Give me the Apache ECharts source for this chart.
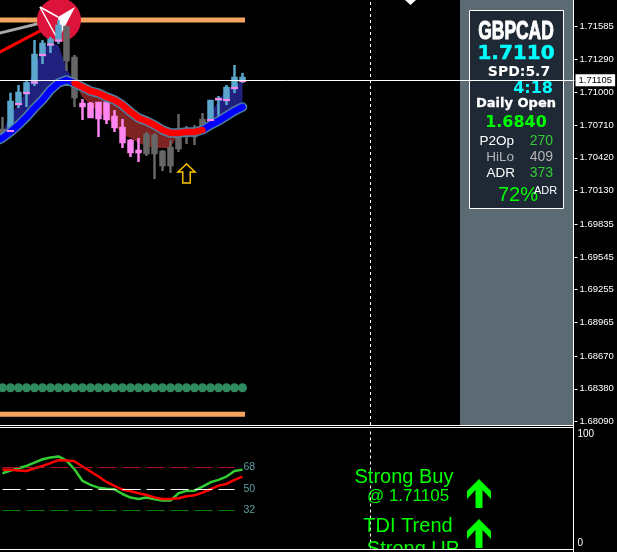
<!DOCTYPE html>
<html><head><meta charset="utf-8">
<style>html,body{margin:0;padding:0;background:#000;overflow:hidden}#c{width:617px;height:552px}</style>
<script src="https://cdn.jsdelivr.net/npm/echarts@6/dist/echarts.min.js"></script>
</head><body><div id="c"></div>
<script>
// one value per candle, oldest first (price in 1e-5 points)
const highs=[170780,170995,171063,171107,171461,171461,171487,171637,171575,171328,170939,170913,170913,170913,170842,170763,170586,170595,170648,170639,170489,170577,170807,170701,170710,170816,170931,170966,171063,171240,171169];
const bodyTop=[170666,170913,170992,171076,171328,171425,171461,171584,171575,171302,170895,170895,170904,170904,170780,170683,170568,170480,170621,170613,170471,170507,170604,170639,170639,170754,170922,170939,171037,171125,171125];
const bodyBot=[170621,170657,170895,170992,171085,171328,171421,171456,171284,170957,170878,170780,170772,170763,170692,170560,170471,170471,170462,170462,170356,170356,170507,170613,170613,170692,170754,170935,170931,171037,171098];
const lows=[170577,170621,170860,170869,171054,171249,171346,171425,171187,170869,170754,170772,170604,170719,170648,170507,170427,170383,170436,170233,170303,170286,170471,170542,170533,170648,170736,170780,170886,170992,171081];
const kinds=['g','b','b','b','b','b','b','b','g','g','p','p','p','p','p','p','p','p','g','g','g','g','g','g','g','g','b','b','b','b','b'];
// moving average: starts one candle before the first visible candle
const maLine=[170560,170595,170648,170710,170780,170860,170931,171019,171081,171107,171081,171045,171010,170992,170957,170931,170886,170825,170772,170745,170710,170666,170639,170639,170648,170648,170666,170710,170745,170789,170833,170869];
const upperA=[170639,170816,170886,171019,171222,171372,171434,171416,171213,171081];
const lowerB=[171081,170957,170886,170825,170772,170710,170621,170595,170551,170524,170507,170507,170507,170639];
const upperC=[170666,170798,170931,171019,171063,171089];
const tdiRed=[65.8,65.8,65.2,64.9,67.2,69.1,71.4,73.9,73.6,73.0,68.6,64.4,60.2,55.7,52.4,49.3,47.9,46.2,44.8,42.8,41.5,41.5,42,43.7,44.5,46.8,49.6,52.6,54,57.4,60.2];
const tdiGreen=[63,65.2,67.2,69.1,71.9,74.7,76.1,77,73.6,66.3,56.5,53.2,50.9,50,49.5,45.6,42.6,41.5,42.6,41.2,40.1,40.1,46.2,48.2,48.4,51.8,55.4,57.4,60.2,64.9,66];
const tdiLevels=[68,50,32];
const priceTicks=[1.71585,1.71290,1.71000,1.70710,1.70420,1.70130,1.69835,1.69545,1.69255,1.68965,1.68670,1.68380,1.68090];
const lastPrice=1.71105;
const upperLevel=1.71637, lowerLevel=1.68154, dotLevel=1.68389, arrowPrice=1.70282, diamondPrice=1.71814;
const grayTrend=[1.71511,1.71614], redTrend=[1.71329,1.71552];
const tdiTickLabels=['100','0'], tdiTickPos=[95.5,4.5];
const symbolName='GBPCAD',bid='1.7110',spread='SPD:5.7',timer='4:18',dailyLabel='Daily Open',dailyOpen='1.6840';
const stats=[['P2Op','270'],['HiLo','409'],['ADR','373']];
const adrPct='72%',adrLabel='ADR';
const signalTexts=['Strong Buy','@ 1.71105','TDI Trend','Strong UP'];

const N=73, cats=Array.from({length:N},(_,i)=>String(i));
const p=a=>a/100000;
const pad=(arr,start)=>cats.map((_,k)=>(k>=start&&k<start+arr.length)?arr[k-start]:'-');
const colors={g:'#666666',b:'#5ba6cc',p:'#ff85f2'};
const candleData=pad(kinds.map((kd,i)=>{
  const o=kd==='b'?bodyBot[i]:bodyTop[i], c=kd==='b'?bodyTop[i]:bodyBot[i], col=colors[kd];
  return {value:[p(o),p(c),p(lows[i]),p(highs[i])],itemStyle:{color:col,color0:col,borderColor:col,borderColor0:col}};
}),1);
const tickData=pad(kinds.map((kd,i)=>kd==='b'?p(i===27?bodyTop[i]:bodyBot[i]):'-'),1);
const ma=maLine.map(p);
const maFull=pad(ma,0);
const blue=maFull.map((v,k)=>(k<=10||k>=26)?v:'-');
const red=maFull.map((v,k)=>(k>=10&&k<=26)?v:'-');
const PRICE='#F4A460';
const band=(stack,base,diff,color)=>[
 {type:'line',stack,data:base,symbol:'none',lineStyle:{width:0},z:1,silent:true},
 {type:'line',stack,data:diff,symbol:'none',lineStyle:{width:0},areaStyle:{color,opacity:1},z:1,silent:true}];
const diffs=(hi,lo,start)=>pad(hi.map((v,i)=>p(v)-p(lo[i])),start);
const maSlice=(from,len)=>maLine.slice(from,from+len);

const T=(text,x,y,font,fill,align,scaleX,heavy)=>({type:'text',z:6,x,y,scaleX:scaleX||1,style:{text,x:0,y:0,font,fill,textAlign:align||'left',textVerticalAlign:'middle',stroke:heavy?fill:null,lineWidth:heavy||0}});
const HL=(y)=>({type:'line',z:9,shape:{x1:0,y1:y,x2:574,y2:y},style:{stroke:'#fff',lineWidth:1}});
const bigArrow=(tip,bottom)=>({type:'polygon',z:6,shape:{points:[[479,tip],[491,tip+12],[491,tip+20],[482.5,tip+11],[482.5,bottom],[475.5,bottom],[475.5,tip+11],[467,tip+20],[467,tip+12]]},style:{fill:'#00ff00'}});

const graphic=[
 {type:'circle',z:1,shape:{cx:59,cy:20,r:22},style:{fill:'#dc143c'}},
 {type:'polygon',z:1,shape:{points:[[75,7],[58,17],[60,36]]},style:{fill:'#fff'}},
 {type:'polyline',z:1,shape:{points:[[40,7],[58,17]]},style:{stroke:'#fff',lineWidth:1.5,fill:'none'}},
 {type:'polyline',z:1,shape:{points:[[40,7],[57,38]]},style:{stroke:'#fff',lineWidth:1.5,fill:'none'}},
 {type:'rect',z:5,shape:{x:460,y:0,width:113,height:425},style:{fill:'#5c6b73'}},
 {type:'rect',z:5,shape:{x:469.5,y:10.5,width:94,height:198},style:{fill:'#1e2935',stroke:'#fff',lineWidth:1}},
 T(symbolName,516,31.5,'bold 26px "Liberation Sans"','#fff','center',0.67,1),
 T(bid,516,54,'bold 20px "DejaVu Sans"','#00ffff','center',1,0.5),
 T(spread,519,72.5,'bold 14px "DejaVu Sans"','#fff','center'),
 T(timer,553,88.5,'bold 16px "DejaVu Sans"','#00ffff','right'),
 T(dailyLabel,516,103.5,'bold 13px "DejaVu Sans"','#fff','center',1,0.3),
 T(dailyOpen,516,122.5,'bold 16px "DejaVu Sans"','#00ff00','center'),
 T(stats[0][0],514,141,'13.5px "Liberation Sans"','#fff','right'),
 T(stats[0][1],553,141,'14px "Liberation Sans"','#32cd32','right'),
 T(stats[1][0],514,157,'13.5px "Liberation Sans"','#b4b4b4','right'),
 T(stats[1][1],553,157,'14px "Liberation Sans"','#b4b4b4','right'),
 T(stats[2][0],515,173,'13.5px "Liberation Sans"','#fff','right'),
 T(stats[2][1],553,173,'14px "Liberation Sans"','#32cd32','right'),
 T(adrPct,498,195,'20px "Liberation Sans"','#00ff00','left'),
 T(adrLabel,534,190.5,'11px "Liberation Sans"','#fff','left'),
 T(signalTexts[0],404,477,'20px "Liberation Sans"','#00ff00','center'),
 T(signalTexts[1],408,496,'17px "Liberation Sans"','#00ff00','center'),
 T(signalTexts[2],408,526,'20px "Liberation Sans"','#00ff00','center'),
 T(signalTexts[3],413,549,'20px "Liberation Sans"','#00ff00','center'),
 bigArrow(479,508),
 bigArrow(519,548),
 {type:'rect',z:8,shape:{x:0,y:550,width:617,height:2},style:{fill:'#000'}},
 HL(425.5),HL(427.5),HL(549.5),
 {type:'line',z:9,shape:{x1:573.5,y1:0,x2:573.5,y2:552},style:{stroke:'#fff',lineWidth:1}}
];

const vDash={silent:true,symbol:'none',animation:false,label:{show:false},lineStyle:{color:'#fff',type:[3,3],width:1},data:[{xAxis:47}]};

const option={
 animation:false,backgroundColor:'#000',graphic,
 grid:[{left:-9.5,top:0,width:584,height:425,outerBoundsMode:'none',containLabel:false},{left:-9.5,top:429,width:584,height:119.5,outerBoundsMode:'none',containLabel:false}],
 xAxis:[
  {type:'category',gridIndex:0,data:cats,boundaryGap:true,axisLine:{show:false},axisTick:{show:false},axisLabel:{show:false},splitLine:{show:false}},
  {type:'category',gridIndex:1,data:cats,boundaryGap:true,axisLine:{show:false},axisTick:{show:false},axisLabel:{show:false},splitLine:{show:false}}],
 yAxis:[
  {type:'value',gridIndex:0,position:'right',min:1.6806,max:1.71814,splitLine:{show:false},axisLine:{show:false},
   axisTick:{show:true,length:3,lineStyle:{color:'#fff'},customValues:priceTicks},
   axisLabel:{show:true,color:'#fff',fontFamily:'Liberation Sans',fontSize:9.5,margin:5,customValues:priceTicks,formatter:v=>v.toFixed(5)}},
  {type:'value',gridIndex:1,position:'right',min:0,max:100,splitLine:{show:false},axisLine:{show:false},axisTick:{show:false},
   axisLabel:{show:true,color:'#fff',fontFamily:'Liberation Sans',fontSize:10,margin:3,customValues:tdiTickPos,formatter:v=>tdiTickLabels[tdiTickPos.indexOf(v)]}}],
 series:[
  ...band('a',pad(maSlice(1,10).map(p),1),diffs(upperA,maSlice(1,10),1),'#20207e'),
  ...band('b',pad(lowerB.map(p),10),pad(maSlice(10,14).map((v,i)=>p(v)-p(lowerB[i])),10),'#7e2222'),
  ...band('c',pad(maSlice(26,6).map(p),26),diffs(upperC,maSlice(26,6),26),'#20207e'),
  {type:'line',data:cats.map((_,k)=>k>=0&&k<=31?upperLevel:'-'),symbol:'none',lineStyle:{color:PRICE,width:5,cap:'square'},z:0,silent:true},
  {type:'line',data:cats.map((_,k)=>k>=0&&k<=31?lowerLevel:'-'),symbol:'none',lineStyle:{color:PRICE,width:5,cap:'square'},z:0,silent:true},
  {type:'scatter',data:cats.map((_,k)=>k<=31?dotLevel:'-'),symbol:'circle',symbolSize:9,itemStyle:{color:'#2e8b5f',opacity:1},z:2,silent:true},
  {type:'line',data:[[0,grayTrend[0]],[6,grayTrend[1]]],symbol:'none',lineStyle:{color:'#aaaaaa',width:3},z:0,silent:true},
  {type:'line',data:[[0,redTrend[0]],[6,redTrend[1]]],symbol:'none',lineStyle:{color:'#ff0000',width:3},z:0,silent:true},
  {type:'candlestick',data:candleData,barWidth:4.5,itemStyle:{borderWidth:2.5},z:2,silent:true},
  {type:'scatter',data:tickData,symbol:'rect',symbolSize:[7,2],itemStyle:{color:'#ff85f2',opacity:1},z:3,silent:true},
  {type:'line',data:maFull,symbol:'none',lineStyle:{color:'#4f7fa0',width:9.5,cap:'round',join:'round'},z:3,silent:true},
  {type:'line',data:blue,symbol:'none',lineStyle:{color:'#0000ff',width:6.5,cap:'round',join:'round'},z:3,silent:true},
  {type:'line',data:red,symbol:'none',lineStyle:{color:'#ff0000',width:6.5,cap:'round',join:'round'},z:3,silent:true},
  {type:'scatter',data:[[24,arrowPrice]],symbol:'path://M8 0 L16 8 L11.5 8 L11.5 19 L4.5 19 L4.5 8 L0 8 Z',symbolSize:[17,19],
   itemStyle:{color:'rgba(0,0,0,0)',borderColor:'#ffc400',borderWidth:1.5,opacity:1},z:3,silent:true},
  {type:'scatter',data:[[52,diamondPrice]],symbol:'diamond',symbolSize:[11,10],clip:false,itemStyle:{color:'#fff',opacity:1},z:3,silent:true},
  {type:'line',data:[],z:4,silent:true,markLine:vDash},
  {type:'line',data:[],z:4,silent:true,markLine:{silent:true,symbol:'none',animation:false,precision:5,
    lineStyle:{color:'#fff',width:1,type:'solid'},
    label:{show:true,position:'end',distance:1,formatter:()=>lastPrice.toFixed(5),color:'#000',backgroundColor:'#fff',fontFamily:'Liberation Sans',fontSize:9.5,padding:[1,3,1,3]},
    data:[{yAxis:lastPrice}]}},
  // TDI window
  {type:'line',xAxisIndex:1,yAxisIndex:1,data:[],z:1,silent:true,markLine:{...vDash}},
  {type:'line',xAxisIndex:1,yAxisIndex:1,data:[],z:1,silent:true,markLine:{silent:true,symbol:'none',animation:false,
    label:{show:true,position:'end',distance:9,color:'#5f9ea0',fontFamily:'Liberation Sans',fontSize:10.5},
    data:tdiLevels.map((v,i)=>[{xAxis:1,yAxis:v,label:{formatter:String(v)},lineStyle:{color:['#b01030','#ffffff','#008000'][i],type:[18,6],width:1}},{xAxis:30,yAxis:v}])}},
  {type:'line',xAxisIndex:1,yAxisIndex:1,data:pad(tdiGreen,1),symbol:'none',lineStyle:{color:'#32cd32',width:2.5},z:2,silent:true},
  {type:'line',xAxisIndex:1,yAxisIndex:1,data:pad(tdiRed,1),symbol:'none',lineStyle:{color:'#ff0000',width:2.5},z:3,silent:true}
 ]
};
const chart=echarts.init(document.getElementById('c'),null,{renderer:'canvas'});
chart.setOption(option);
</script></body></html>
